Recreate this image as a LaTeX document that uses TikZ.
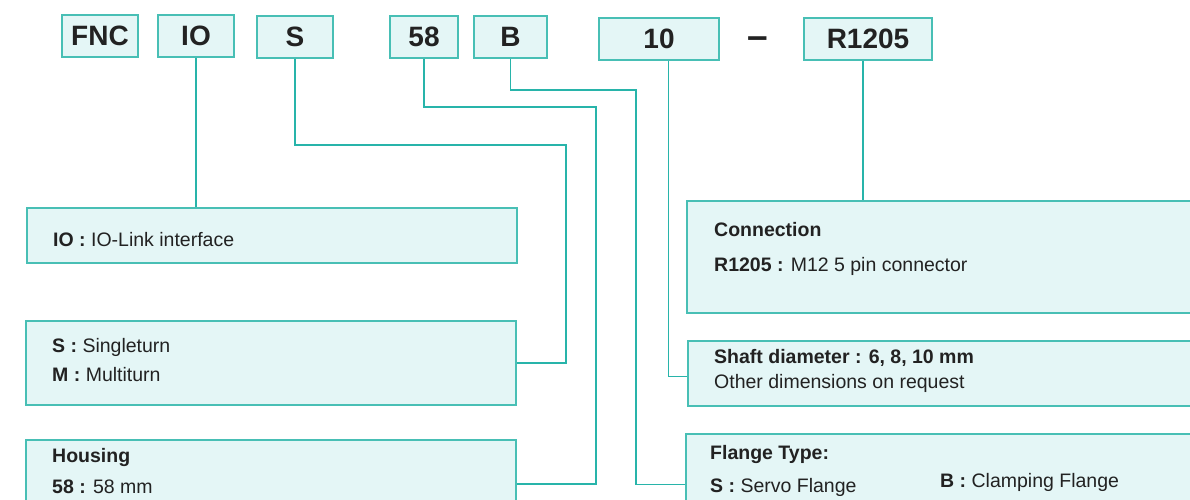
\documentclass[tikz,border=0pt]{standalone}
\usepackage{fontspec}
\setmainfont{Liberation Sans}
\usetikzlibrary{calc}
\definecolor{bordercol}{RGB}{72,191,181}
\definecolor{fillcol}{RGB}{228,246,246}
\definecolor{linecol}{RGB}{40,180,170}
\definecolor{textcol}{RGB}{34,34,34}
\tikzset{
  hbox/.style={draw=bordercol, fill=fillcol, line width=2pt, inner sep=0pt,
    minimum height=42pt, text=textcol, font=\fontsize{28}{32}\selectfont\bfseries},
  ibox/.style={draw=bordercol, fill=fillcol, line width=2pt, inner sep=0pt,
    anchor=north west},
  conn/.style={draw=linecol, line width=1.5pt},
  txt/.style={anchor=base west, inner sep=0pt, text=textcol,
    font=\fontsize{19.5}{23}\selectfont},
}
\begin{document}
\begin{tikzpicture}[x=1pt,y=-1pt]
\useasboundingbox (0,0) rectangle (1190,500);
\clip (0,0) rectangle (1190,500);
\fill[white] (0,0) rectangle (1190,500);

% header boxes
\node[hbox, minimum width=76] (fnc) at (100,36) {FNC};
\node[hbox, minimum width=76] (io) at (196,36) {IO};
\node[hbox, minimum width=76] (s) at (295,37) {S};
\node[hbox, minimum width=68] (ff) at (424,37) {58};
\node[hbox, minimum width=73] (b) at (510.5,37) {B};
\node[hbox, minimum width=120] (ten) at (659,39) {10};
\node[anchor=base, inner sep=0pt, text=textcol, font=\fontsize{37}{40}\selectfont\bfseries] (dash) at (758,49) {–};
\node[hbox, minimum width=128] (r) at (868,39) {R1205};

% info boxes
\node[ibox, minimum width=490, minimum height=55] (iobox) at (26,207) {};
\node[ibox, minimum width=490, minimum height=84] (smbox) at (25,320) {};
\node[ibox, minimum width=490, minimum height=88] (housebox) at (25,439) {};
\node[ibox, minimum width=520, minimum height=112] (connbox) at (686,200) {};
\node[ibox, minimum width=520, minimum height=65] (shaftbox) at (687,340) {};
\node[ibox, minimum width=520, minimum height=101] (flangebox) at (685,433) {};

% texts
\node[txt] (t1) at (53,246.7) {\textbf{IO :} IO-Link interface};
\node[txt] (t2) at (52,352.5) {\textbf{S :} Singleturn};
\node[txt] (t3) at (52,381) {\textbf{M :} Multiturn};
\node[txt] (t4) at (52,462) {\textbf{Housing}};
\node[txt] (t5) at (52,493) {\textbf{58 :} 58 mm};
\node[txt] (t6) at (714,236.7) {\textbf{Connection}};
\node[txt] (t7) at (714,271.7) {\textbf{R1205 :} M12 5 pin connector};
\node[txt] (t8) at (714,363.3) {\textbf{Shaft diameter : 6, 8, 10 mm}};
\node[txt] (t9) at (714,388.3) {Other dimensions on request};
\node[txt] (t10) at (710,459.3) {\textbf{Flange Type:}};
\node[txt] (t11) at (710,492.7) {\textbf{S :} Servo Flange};
\node[txt] (t12) at (940,487.7) {\textbf{B :} Clamping Flange};

% bend coordinates
\coordinate (sb) at (566,145);
\coordinate (fb) at (596,107);
\coordinate (bb) at (636,90);
\coordinate (tt) at ($(ten.south)+(9.5,0)$);
\coordinate (te) at ($(shaftbox.north west)+(0,36.7)$);
\coordinate (rr) at ($(r.south)+(-5,0)$);

% connectors
\draw[conn] (io.south) -- (io.south |- iobox.north);
\draw[conn] (s.south) |- (sb) |- (smbox.east);
\draw[conn] (ff.south) |- (fb) |- (housebox.east);
\draw[conn] (b.south) |- (bb) |- (flangebox.west);
\draw[conn] (tt) |- (te);
\draw[conn] (rr) -- (rr |- connbox.north);
\end{tikzpicture}
\end{document}
